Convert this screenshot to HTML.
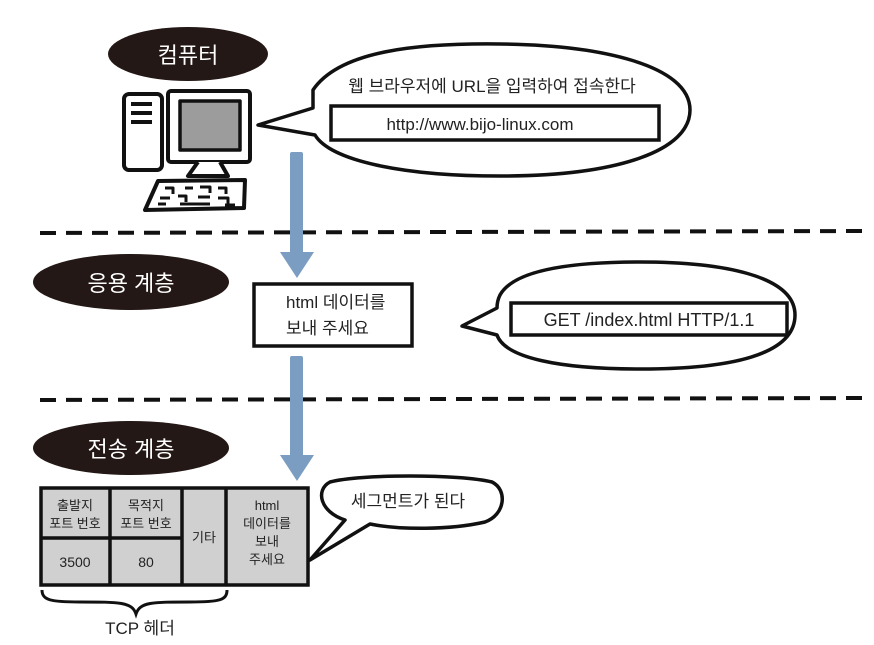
<!DOCTYPE html>
<html><head><meta charset="utf-8"><style>
html,body{margin:0;padding:0;background:#fff;}
svg{display:block;}
text{font-family:"Liberation Sans","Noto Sans CJK KR",sans-serif;}
</style></head><body>
<svg width="874" height="645" viewBox="0 0 874 645" xmlns="http://www.w3.org/2000/svg">
<ellipse cx="188" cy="54" rx="80" ry="27" fill="#231815"/>
<text x="188" y="63" font-size="22" fill="#fff" text-anchor="middle">컴퓨터</text>
<ellipse cx="131" cy="282" rx="98" ry="28" fill="#231815"/>
<text x="131" y="291" font-size="22" fill="#fff" text-anchor="middle">응용 계층</text>
<ellipse cx="131" cy="448" rx="98" ry="27" fill="#231815"/>
<text x="131" y="457" font-size="22" fill="#fff" text-anchor="middle">전송 계층</text>

<g fill="none" stroke="#111" stroke-width="4" stroke-linejoin="round">
<rect x="124" y="94" width="38" height="76" rx="5" fill="#fff"/>
<line x1="131" y1="104" x2="152" y2="104"/><line x1="131" y1="113" x2="152" y2="113"/><line x1="131" y1="122" x2="152" y2="122"/>
<rect x="168" y="91" width="82" height="71" rx="3" fill="#fff"/>
<rect x="180" y="101" width="60" height="49" fill="#9c9c9c" stroke-width="3.5"/>
<path d="M198 162 L188 176 L228 176 L220 162" fill="#fff"/>
<path d="M158 181 L245 180 L244 208 L145 210 Z" fill="#fff"/>
<path d="M165 188 h8 v6 M185 188 h8 M200 187 h10 v6 M218 188 h8 v6 M160 198 h10 M178 196 h8 v6 M198 197 h12 M218 198 h10 v6 M158 204 h8 M180 204 h30 M225 205 h10" stroke-width="3"/>
</g>

<path d="M313 90 C340 50 420 43 500 44 C600 45 690 65 690 110 C690 150 620 176 500 176 C400 176 330 160 315 135 L258 125 L313 108 Z" fill="#fff" stroke="#111" stroke-width="3.5" stroke-linejoin="round"/>
<text x="492" y="92" font-size="17" fill="#222" text-anchor="middle">웹 브라우저에 URL을 입력하여 접속한다</text>
<rect x="331" y="106" width="328" height="34" fill="#fff" stroke="#111" stroke-width="3.5"/>
<text x="480" y="130" font-size="17" fill="#222" text-anchor="middle">http://www.bijo-linux.com</text>

<line x1="40" y1="233" x2="862" y2="231" stroke="#111" stroke-width="4" stroke-dasharray="16 10"/>
<line x1="40" y1="400" x2="862" y2="398" stroke="#111" stroke-width="4" stroke-dasharray="16 10"/>

<g fill="#7b9dc2">
<rect x="290" y="152" width="13" height="102" rx="2"/>
<path d="M280 252 L314 252 L297 278 Z"/>
<rect x="290" y="356" width="13" height="102" rx="2"/>
<path d="M280 455 L314 455 L297 481 Z"/>
</g>

<rect x="254" y="284" width="158" height="62" fill="#fff" stroke="#111" stroke-width="3.5"/>
<text x="286" y="308" font-size="17" fill="#222">html 데이터를</text>
<text x="286" y="334" font-size="17" fill="#222">보내 주세요</text>

<path d="M500 295 C515 268 580 262 640 262 C720 262 795 275 795 315 C795 355 730 369 640 369 C560 369 505 358 497 335 L462 326 L497 308 C497 303 498 299 500 295 Z" fill="#fff" stroke="#111" stroke-width="3.5" stroke-linejoin="round"/>
<rect x="511" y="303" width="276" height="32" fill="#fff" stroke="#111" stroke-width="3.5"/>
<text x="649" y="326" font-size="18" fill="#222" text-anchor="middle">GET /index.html HTTP/1.1</text>

<path d="M330 482 C360 474 460 474 492 482 C508 490 505 515 485 522 C450 530 400 530 370 524 L310 560 L345 520 C320 512 315 490 330 482 Z" fill="#fff" stroke="#111" stroke-width="3.5" stroke-linejoin="round"/>
<text x="408" y="507" font-size="17" fill="#222" text-anchor="middle">세그먼트가 된다</text>

<g stroke="#111" stroke-width="3.5" fill="#d0d0d0">
<rect x="41" y="488" width="267" height="97"/>
<line x1="110" y1="488" x2="110" y2="585"/>
<line x1="182" y1="488" x2="182" y2="585"/>
<line x1="226" y1="488" x2="226" y2="585"/>
<line x1="41" y1="538" x2="182" y2="538"/>
</g>
<g font-size="13" fill="#222" text-anchor="middle">
<text x="75" y="510">출발지</text><text x="75" y="528">포트 번호</text>
<text x="146" y="510">목적지</text><text x="146" y="528">포트 번호</text>
<text x="75" y="567" font-size="14">3500</text><text x="146" y="567" font-size="14">80</text>
<text x="204" y="542">기타</text>
<text x="267" y="510">html</text><text x="267" y="528">데이터를</text><text x="267" y="546">보내</text><text x="267" y="564">주세요</text>
</g>
<path d="M42 590 C42 600 50 602 80 602 C120 602 132 602 136 614 C140 602 152 602 190 602 C220 602 227 600 227 590" fill="none" stroke="#111" stroke-width="3"/>
<text x="140" y="634" font-size="17" fill="#222" text-anchor="middle">TCP 헤더</text>
</svg>
</body></html>
